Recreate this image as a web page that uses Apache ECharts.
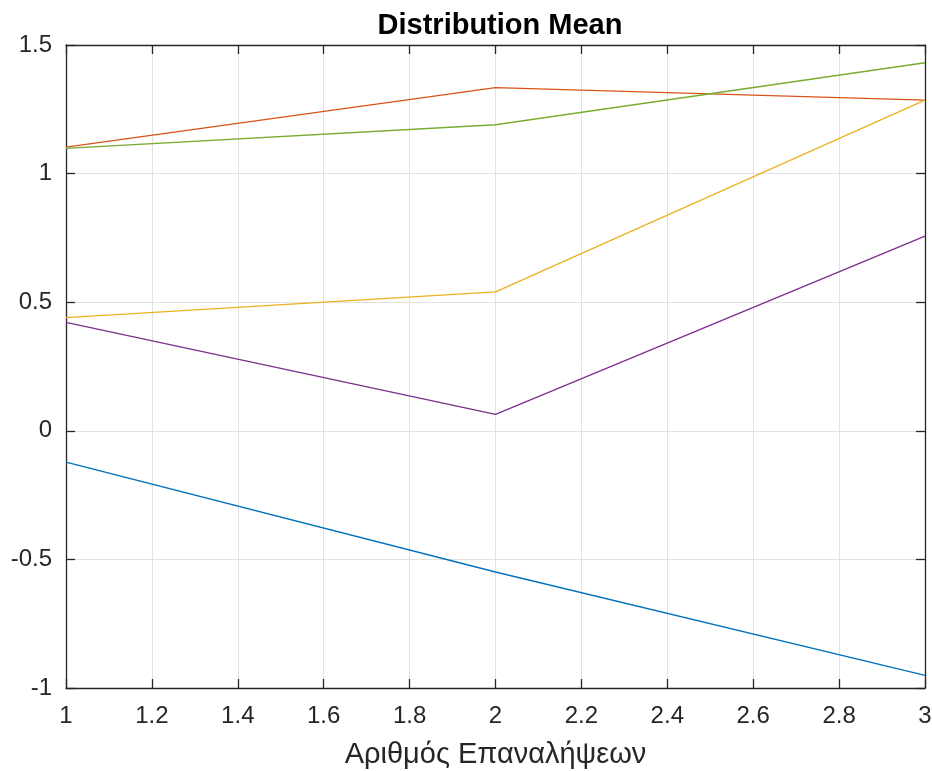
<!DOCTYPE html>
<html lang="el">
  <head>
    <meta charset="UTF-8" />
    <title>Distribution Mean</title>
    <script src="https://cdn.jsdelivr.net/npm/echarts@6/dist/echarts.min.js"></script>
    <style>
      body { margin: 0; background: #ffffff; }
      #main { width: 932px; height: 771px; }
    </style>
  </head>
  <body>
    <div id="main"></div>
    <script>
      // iterations on the x axis
      const iterations = [1, 2, 3];

      // one line per distribution (MATLAB default colour order)
      const seriesBlue = [-0.122, -0.549, -0.951];
      const seriesOrange = [1.103, 1.334, 1.286];
      const seriesYellow = [0.440, 0.540, 1.286];
      const seriesPurple = [0.422, 0.064, 0.757];
      const seriesGreen = [1.098, 1.190, 1.431];

      const lines = [
        { data: seriesBlue, color: "#0072BD" },
        { data: seriesOrange, color: "#D95319" },
        { data: seriesYellow, color: "#EDB120" },
        { data: seriesPurple, color: "#7E2F8E" },
        { data: seriesGreen, color: "#77AC30" },
      ];

      const axisColor = "#262626";
      const font = "Liberation Sans, Arial, sans-serif";

      const chart = echarts.init(document.getElementById("main"));

      const fmt = v => String(Math.round(v * 10) / 10);

      // shared look of the box axes
      const line = { show: true, onZero: false, lineStyle: { color: axisColor, width: 1.3 } };
      const tick = { show: true, inside: true, length: 9, lineStyle: { color: axisColor, width: 1.3 } };
      const grid = { show: true, lineStyle: { color: "#e2e2e2", width: 1 } };

      const option = {
        animation: false,
        title: {
          text: "Distribution Mean",
          left: 495,
          textAlign: "center",
          top: 6,
          textStyle: { fontFamily: font, fontSize: 29, fontWeight: "bold", color: "#000" },
        },
        grid: { left: 66, right: 7, top: 45, bottom: 83, containLabel: false, outerBoundsMode: "none" },
        xAxis: [
          {
            type: "value",
            min: 1,
            max: 3,
            interval: 0.2,
            name: "Αριθμός Επαναλήψεων",
            nameLocation: "middle",
            nameGap: 52,
            nameTextStyle: { fontFamily: font, fontSize: 29, color: axisColor },
            axisLine: line,
            axisTick: tick,
            axisLabel: { fontFamily: font, fontSize: 24, color: axisColor, margin: 16, formatter: fmt },
            splitLine: grid,
          },
          {
            type: "value",
            position: "top",
            min: 1,
            max: 3,
            interval: 0.2,
            axisLine: line,
            axisTick: tick,
            axisLabel: { show: false },
            splitLine: { show: false },
          },
        ],
        yAxis: [
          {
            type: "value",
            min: -1,
            max: 1.5,
            interval: 0.5,
            axisLine: line,
            axisTick: tick,
            axisLabel: { fontFamily: font, fontSize: 24, color: axisColor, margin: 14, formatter: fmt },
            splitLine: grid,
          },
          {
            type: "value",
            position: "right",
            min: -1,
            max: 1.5,
            interval: 0.5,
            axisLine: line,
            axisTick: tick,
            axisLabel: { show: false },
            splitLine: { show: false },
          },
        ],
        series: lines.map(l => ({
          type: "line",
          data: iterations.map((x, i) => [x, l.data[i]]),
          showSymbol: false,
          lineStyle: { color: l.color, width: 1.3 },
          itemStyle: { color: l.color },
        })),
      };

      chart.setOption(option);
    </script>
  </body>
</html>
